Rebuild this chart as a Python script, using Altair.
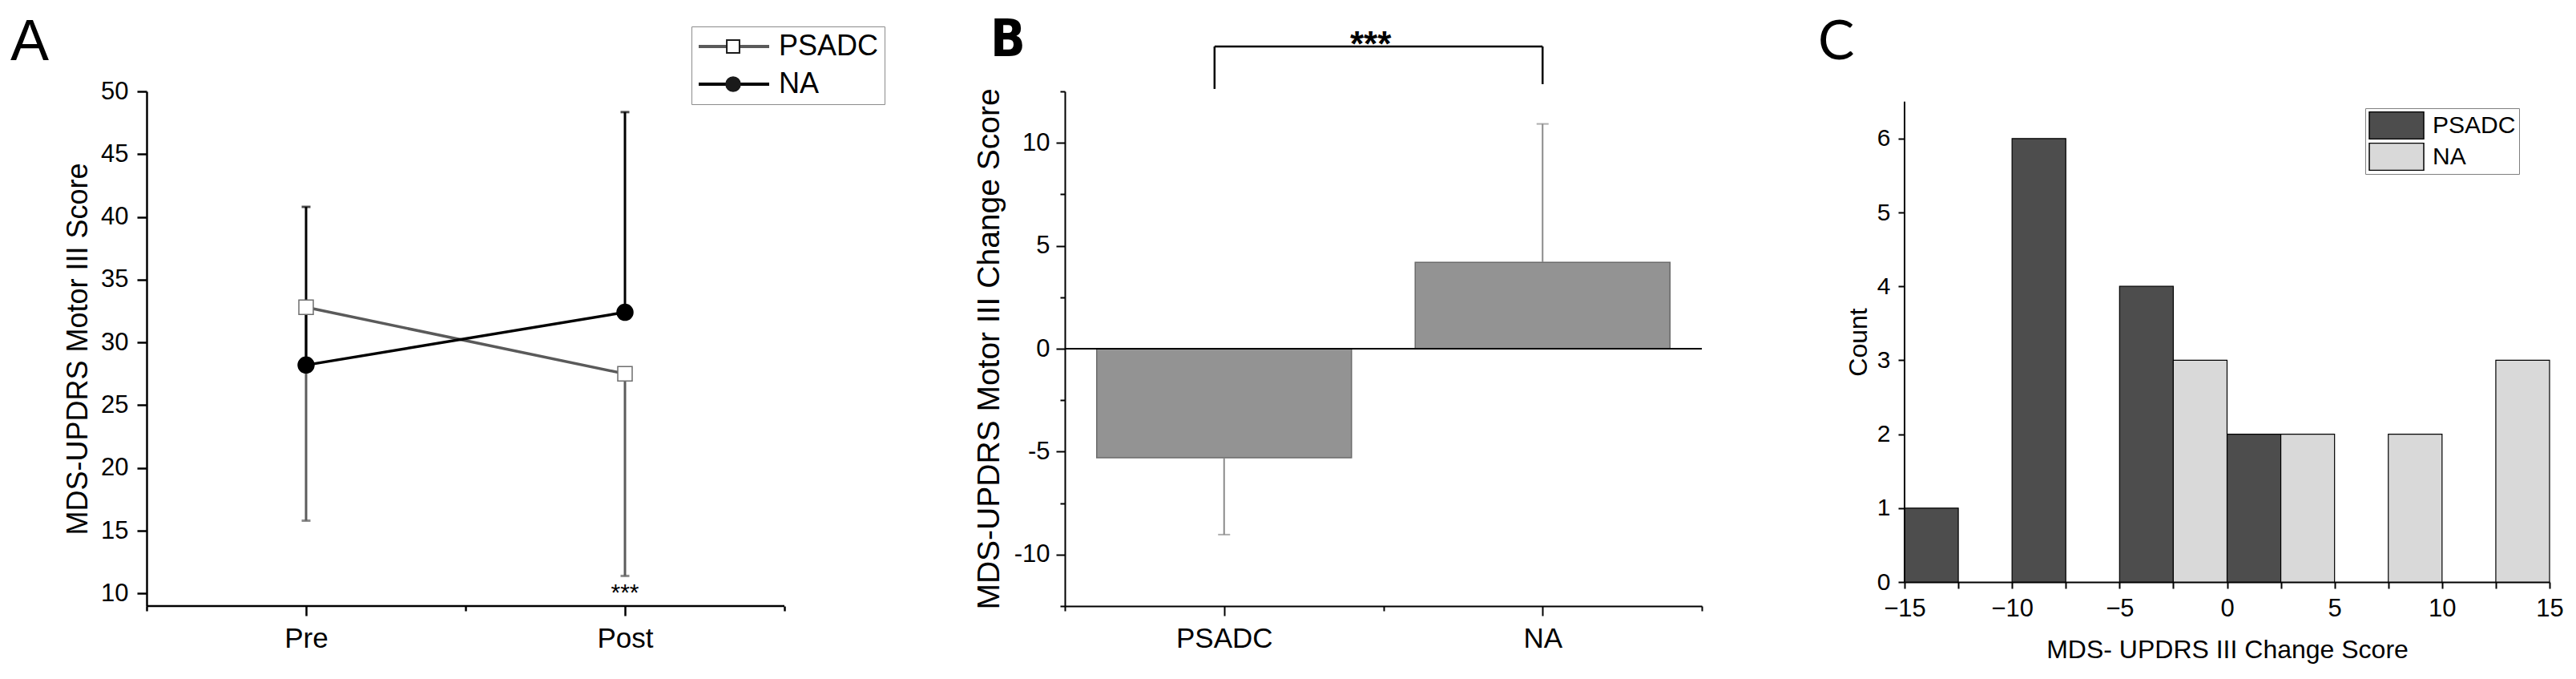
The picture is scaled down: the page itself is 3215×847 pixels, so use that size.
import altair as alt
import pandas as pd

FONT = "Liberation Sans"
LETTER_B_FONT = "DejaVu Sans Condensed, Liberation Sans, sans-serif"
LETTER_C_FONT = "Lato, Liberation Sans, sans-serif"

# ---------------- data ----------------
# Panel A: MDS-UPDRS Motor III score, Pre vs Post (mean, one-sided SD)
time_labels = ["Pre", "Post"]
time_pos = [1, 2]
psadc_mean = [32.8, 27.5]
psadc_sd = [17.0, 16.1]
na_mean = [28.2, 32.4]
na_sd = [12.6, 15.95]

# Panel B: change score by group
b_groups = ["PSADC", "NA"]
b_pos = [1, 2]
change_mean = [-5.3, 4.2]
change_sd = [3.73, 6.72]

# Panel B significance bracket (data units)
bracket_x = [0.97, 2.0]
bracket_top = 14.68
bracket_bottom = [12.62, 12.85]
star_pos = [1.46, 14.23]

# Panel C: histogram of change scores
bin_width = 2.5
c_psadc_start = [-15, -10, -5, 0]
c_psadc_count = [1, 6, 4, 2]
c_na_start = [-2.5, 2.5, 7.5, 12.5]
c_na_count = [3, 2, 2, 3]

groups = ["PSADC", "NA"]

# marker shapes (unit paths): open square, and a solid-looking disc made of rings
SQUARE = "M-0.18,-0.18H0.18V0.18H-0.18Z"
DISC = "".join(
    "M{r},0A{r},{r} 0 1,1 {m},0A{r},{r} 0 1,1 {r},0Z".format(r=r, m=-r)
    for r in [0.2, 0.17, 0.14, 0.11, 0.08, 0.05, 0.02]
)

# ---------------- tables ----------------
rowsA = []
for g, means, sds, sign in [("PSADC", psadc_mean, psadc_sd, -1), ("NA", na_mean, na_sd, 1)]:
    for t, m, s in zip(time_pos, means, sds):
        rowsA.append({"group": g, "grp2": g, "t": t, "mean": m, "end": m + sign * s})
dfA = pd.DataFrame(rowsA)

dfB = pd.DataFrame({
    "group": b_groups,
    "pos": b_pos,
    "lo": [p - 0.4 for p in b_pos],
    "hi": [p + 0.4 for p in b_pos],
    "mean": change_mean,
    "end": [m - s if m < 0 else m + s for m, s in zip(change_mean, change_sd)],
})

dfBr = pd.DataFrame({
    "x": [bracket_x[0], bracket_x[0], bracket_x[1]],
    "x2": [bracket_x[1], bracket_x[0], bracket_x[1]],
    "y": [bracket_top, bracket_top, bracket_top],
    "y2": [bracket_top, bracket_bottom[0], bracket_bottom[1]],
})

dfC = pd.DataFrame({
    "group": ["PSADC"] * len(c_psadc_start) + ["NA"] * len(c_na_start),
    "start": c_psadc_start + c_na_start,
    "count": c_psadc_count + c_na_count,
})
dfC["end"] = dfC["start"] + bin_width

one = pd.DataFrame({"k": [0]})

# ---------------- Panel A ----------------
WA, HA = 893, 642
UNIT_A = 398
xA = alt.Scale(domain=[0.5, 0.5 + WA / UNIT_A], nice=False, zero=False)
yA = alt.Scale(domain=[9, 50], nice=False, zero=False)

axA_y = alt.Axis(values=list(range(10, 51, 5)), tickSize=12, tickWidth=2.5, domainWidth=2.5,
                 labelFontSize=31, labelPadding=11, title="MDS-UPDRS Motor III Score",
                 titleFontSize=36, titleX=-86, titleY=HA / 2, titleAngle=270,
                 titleBaseline="middle", titleAlign="center", orient="left")
axA_x_major = alt.Axis(values=[1, 2], labelExpr="datum.value == 1 ? 'Pre' : 'Post'",
                       tickSize=12, tickWidth=2.5, domain=False, labelFontSize=35,
                       labelPadding=11, title=None, orient="bottom")
axA_x_minor = alt.Axis(values=[0.5, 1.5, 2.5], tickSize=6, tickWidth=2.5, domain=False,
                       labels=False, title=None, orient="bottom")

errcolor = alt.condition(alt.datum.group == "NA", alt.value("black"), alt.value("#5c5c5c"))

a_axisline = alt.Chart(one).mark_rule(color="black", strokeWidth=2.5).encode(
    x=alt.X(datum=0.5, type="quantitative", scale=xA, axis=axA_x_major),
    x2=alt.datum(2.5),
    y=alt.Y(datum=9, type="quantitative", scale=yA, axis=axA_y),
)
a_err = alt.Chart(dfA).mark_rule(strokeWidth=3).encode(
    x=alt.X("t:Q", scale=xA, axis=axA_x_minor),
    y=alt.Y("mean:Q", scale=yA, axis=None),
    y2="end:Q",
    color=errcolor,
)
a_caps = alt.Chart(dfA).mark_tick(orient="horizontal", size=11, thickness=3).encode(
    x=alt.X("t:Q", scale=xA, axis=None),
    y=alt.Y("end:Q", scale=yA, axis=None),
    color=errcolor,
)
LEG_X, LEG_Y = 680, -81
legend_lines = alt.Legend(orient="none", legendX=LEG_X, legendY=LEG_Y, title=None,
                          symbolType="stroke", symbolSize=88 * 88, symbolStrokeWidth=4,
                          labelFontSize=36, labelOffset=10, rowPadding=11, padding=7,
                          clipHeight=36, strokeColor="#8c8c8c", direction="vertical")
a_lines = alt.Chart(dfA).mark_line(strokeWidth=3.5).encode(
    x=alt.X("t:Q", scale=xA, axis=None),
    y=alt.Y("mean:Q", scale=yA, axis=None),
    color=alt.Color("group:N", scale=alt.Scale(domain=groups, range=["#5a5a5a", "black"]),
                    legend=legend_lines),
)
legend_marks = alt.Legend(orient="none", legendX=LEG_X, legendY=LEG_Y, title=None,
                          symbolSize=88 * 88, symbolStrokeWidth=2, symbolFillColor="white",
                          symbolStrokeColor="#1a1a1a", labelFontSize=36, labelOffset=10,
                          rowPadding=11, padding=7, clipHeight=36, labelExpr="''",
                          direction="vertical")
a_points = alt.Chart(dfA).mark_point(filled=True, size=10000, strokeWidth=1.5, opacity=1).encode(
    x=alt.X("t:Q", scale=xA, axis=None),
    y=alt.Y("mean:Q", scale=yA, axis=None),
    shape=alt.Shape("grp2:N", sort=groups, scale=alt.Scale(range=[SQUARE, DISC]),
                    legend=legend_marks),
    fill=alt.Fill("grp2:N", sort=groups, scale=alt.Scale(range=["white", "black"]), legend=None),
    stroke=alt.Stroke("grp2:N", sort=groups, scale=alt.Scale(range=["#6e6e6e", "black"]),
                      legend=None),
)
a_star = alt.Chart(pd.DataFrame({"t": [2], "y": [9.46], "s": ["***"]})).mark_text(
    fontSize=30, font=FONT, baseline="alphabetic", align="center", color="black"
).encode(
    x=alt.X("t:Q", scale=xA, axis=None),
    y=alt.Y("y:Q", scale=yA, axis=None),
    text="s:N",
)
a_letter = alt.Chart(pd.DataFrame({"l": ["A"]})).mark_text(
    align="left", baseline="alphabetic", fontSize=72, font=FONT + ", sans-serif", color="black"
).encode(x=alt.value(-170), y=alt.value(-39), text="l:N")

panelA = alt.layer(a_axisline, a_err, a_caps, a_lines, a_points, a_star, a_letter).resolve_axis(
    x="independent", y="independent").properties(width=WA, height=HA)

# ---------------- Panel B ----------------
WB, HB = 795, 642
xB = alt.Scale(domain=[0.5, 2.5], nice=False, zero=False)
yB = alt.Scale(domain=[-12.5, 12.5], nice=False, zero=False)

axB_y = alt.Axis(values=[-10, -5, 0, 5, 10], labelExpr="'' + datum.value", tickSize=11,
                 tickWidth=2, domainWidth=2, labelFontSize=31, labelPadding=8,
                 title="MDS-UPDRS Motor III Change Score", titleFontSize=39, titleX=-95,
                 titleY=HB / 2, titleAngle=270, titleBaseline="middle", titleAlign="center",
                 orient="left")
axB_y_minor = alt.Axis(values=[-12.5, -7.5, -2.5, 2.5, 7.5, 12.5], tickSize=6, tickWidth=2,
                       domain=False, labels=False, title=None, orient="left")
axB_x = alt.Axis(values=[1, 2], labelExpr="datum.value == 1 ? 'PSADC' : 'NA'", tickSize=12,
                 tickWidth=2, domainWidth=2, labelFontSize=35, labelPadding=11, title=None,
                 orient="bottom")
axB_x_minor = alt.Axis(values=[0.5, 1.5, 2.5], tickSize=6, tickWidth=2, domain=False,
                       labels=False, title=None, orient="bottom")

b_bars = alt.Chart(dfB).mark_bar(fill="#939393", stroke="#6b6b6b", strokeWidth=1.5).encode(
    x=alt.X("lo:Q", scale=xB, axis=axB_x),
    x2="hi:Q",
    y=alt.Y("mean:Q", scale=yB, axis=axB_y),
    y2=alt.datum(0),
)
b_zero = alt.Chart(one).mark_rule(color="black", strokeWidth=2).encode(
    y=alt.Y(datum=0, type="quantitative", scale=yB, axis=None),
)
b_err = alt.Chart(dfB).mark_rule(color="#8a8a8a", strokeWidth=2).encode(
    x=alt.X("pos:Q", scale=xB, axis=axB_x_minor),
    y=alt.Y("mean:Q", scale=yB, axis=axB_y_minor),
    y2="end:Q",
)
b_caps = alt.Chart(dfB).mark_tick(orient="horizontal", size=15, thickness=2, color="#8a8a8a").encode(
    x=alt.X("pos:Q", scale=xB, axis=None),
    y=alt.Y("end:Q", scale=yB, axis=None),
)
b_bracket = alt.Chart(dfBr).mark_rule(color="black", strokeWidth=2.5).encode(
    x=alt.X("x:Q", scale=xB, axis=None), x2="x2:Q",
    y=alt.Y("y:Q", scale=yB, axis=None), y2="y2:Q",
)
b_star = alt.Chart(pd.DataFrame({"x": [star_pos[0]], "y": [star_pos[1]], "s": ["***"]})).mark_text(
    fontSize=44, fontWeight="bold", font=FONT, baseline="alphabetic", align="center", color="black"
).encode(
    x=alt.X("x:Q", scale=xB, axis=None),
    y=alt.Y("y:Q", scale=yB, axis=None),
    text="s:N",
)
b_letter = alt.Chart(pd.DataFrame({"l": ["B"]})).mark_text(
    align="left", baseline="alphabetic", fontSize=64, font=LETTER_B_FONT, fontWeight="bold",
    color="black"
).encode(x=alt.value(-93), y=alt.value(-44), text="l:N")

panelB = alt.layer(b_bars, b_zero, b_err, b_caps, b_bracket, b_star, b_letter).resolve_axis(
    x="independent", y="independent").properties(width=WB, height=HB)

# ---------------- Panel C ----------------
WC, HC = 805, 612
xC = alt.Scale(domain=[-15, 15], nice=False, zero=False)
yC = alt.Scale(domain=[0, HC / 92.2], nice=False, zero=False)

axC_x = alt.Axis(values=[-15 + 2.5 * i for i in range(13)],
                 labelExpr="datum.value % 5 === 0 ? (datum.value < 0 ? '\u2212' + abs(datum.value) : '' + datum.value) : ''",
                 tickSize=8, tickWidth=2, domainWidth=2, labelFontSize=31, labelPadding=10,
                 title="MDS- UPDRS III Change Score", titleFontSize=32, titleBaseline="alphabetic",
                 titleY=94, titleX=WC / 2, orient="bottom")
axC_y = alt.Axis(values=list(range(0, 7)), format="d", tickSize=8, tickWidth=2, domain=False,
                 labelFontSize=30, labelPadding=10, title="Count", titleFontSize=32,
                 titleX=-57.5, titleY=312.5, titleAngle=270, titleBaseline="middle",
                 titleAlign="center", orient="left")

legend_c = alt.Legend(orient="none", legendX=575, legendY=21, title=None,
                      symbolType="M-1,-0.5H1V0.5H-1Z", symbolSize=68 * 68,
                      symbolStrokeColor="black", symbolStrokeWidth=1.5, labelFontSize=30,
                      labelOffset=10, rowPadding=4, padding=4, clipHeight=35,
                      strokeColor="#808080", fillColor="white", direction="vertical")

c_bars = alt.Chart(dfC).mark_bar(stroke="black", strokeWidth=1.2).encode(
    x=alt.X("start:Q", scale=xC, axis=axC_x),
    x2="end:Q",
    y=alt.Y("count:Q", scale=yC, axis=axC_y),
    y2=alt.datum(0),
    fill=alt.Fill("group:N", scale=alt.Scale(domain=groups, range=["#4d4d4d", "#d9d9d9"]),
                  legend=legend_c),
)
c_yline = alt.Chart(one).mark_rule(color="black", strokeWidth=2).encode(
    x=alt.X(datum=-15, type="quantitative", scale=xC, axis=None),
    y=alt.Y(datum=0, type="quantitative", scale=yC, axis=None),
    y2=alt.datum(6.5),
)
c_letter = alt.Chart(pd.DataFrame({"l": ["C"]})).mark_text(
    align="left", baseline="alphabetic", fontSize=68, font=LETTER_C_FONT, color="black"
).encode(x=alt.value(-108), y=alt.value(-40), text="l:N")

panelC = alt.layer(c_bars, c_yline, c_letter).resolve_axis(
    x="independent", y="independent").properties(width=WC, height=HC)

# ---------------- assemble ----------------
chart = alt.hconcat(panelA, panelB, panelC, spacing=253, bounds="flush").resolve_scale(
    color="independent", fill="independent", stroke="independent", shape="independent"
).properties(
    padding={"left": 5, "top": 9, "right": 5, "bottom": 3}
).configure_view(stroke=None).configure_axis(
    grid=False, labelFont=FONT, titleFont=FONT, labelColor="black", titleColor="black",
    domainColor="black", tickColor="black", titleFontWeight="normal",
    labelFlush=False, labelOverlap=False
).configure_legend(labelFont=FONT, labelColor="black")

chart.save("out.html", embed_options={"renderer": "svg", "actions": False})
